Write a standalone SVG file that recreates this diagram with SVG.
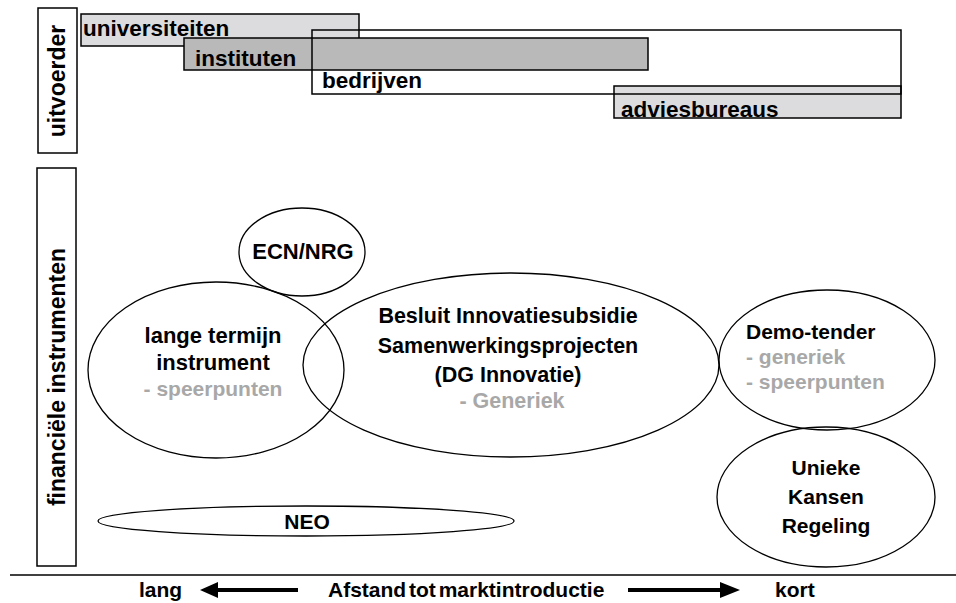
<svg xmlns="http://www.w3.org/2000/svg" width="956" height="603" viewBox="0 0 956 603">
<style>
text{font-family:"Liberation Sans",Arial,sans-serif;font-weight:bold;font-size:21px;fill:#000}
.t{font-size:22.5px}
.v{font-size:23px}
.m{font-size:22px}
.b{font-size:21.5px}
.g{fill:#a8a8a8}
.c{text-anchor:middle}
.box{stroke:#000;stroke-width:1.5}
.ell{fill:none;stroke:#000;stroke-width:1.3}
</style>
<rect width="956" height="603" fill="#fff"/>
<g id="uitvoerder">
<rect class="box" x="38" y="8" width="39" height="145" fill="#fff"/>
<text class="c v" transform="translate(65,81) rotate(-90)">uitvoerder</text>
</g>
<g id="universiteiten">
<rect class="box" x="81" y="14" width="278" height="32" fill="#dcdcde"/>
<text class="t" x="83" y="36">universiteiten</text>
</g>
<g id="instituten">
<rect class="box" x="184" y="38" width="464" height="32" fill="#b9b9ba"/>
<text class="t" x="195" y="66">instituten</text>
</g>
<g id="adviesbureaus">
<rect x="614" y="86" width="287" height="32" fill="#dcdcde"/>
<text class="t" x="621" y="117">adviesbureaus</text>
<rect class="box" x="614" y="86" width="287" height="32" fill="none"/>
</g>
<g id="bedrijven">
<rect class="box" x="312" y="30" width="589" height="64" fill="none"/>
<text class="t" x="322" y="88">bedrijven</text>
</g>
<g id="financiele">
<rect class="box" x="37" y="168" width="39" height="398" fill="#fff"/>
<text class="c v" transform="translate(65,377) rotate(-90)">financiële instrumenten</text>
</g>
<g id="ecn">
<ellipse class="ell" cx="302" cy="252" rx="63" ry="44"/>
<text class="c m" x="303" y="259">ECN/NRG</text>
</g>
<g id="lange">
<ellipse class="ell" cx="216" cy="370" rx="128" ry="88"/>
<text class="c m" x="213" y="343">lange termijn</text>
<text class="c m" x="213" y="370">instrument</text>
<text class="c g" x="213" y="396">- speerpunten</text>
</g>
<g id="besluit">
<ellipse class="ell" cx="511" cy="365" rx="208" ry="92"/>
<text class="c b" x="508" y="323">Besluit Innovatiesubsidie</text>
<text class="c b" x="508" y="353">Samenwerkingsprojecten</text>
<text class="c b" x="508" y="382">(DG Innovatie)</text>
<text class="c g b" x="512" y="408">- Generiek</text>
</g>
<g id="demo">
<ellipse class="ell" cx="827" cy="360" rx="108" ry="70"/>
<text x="746" y="339">Demo-tender</text>
<text class="g" x="746" y="364">- generiek</text>
<text class="g" x="746" y="389">- speerpunten</text>
</g>
<g id="unieke">
<ellipse class="ell" cx="826" cy="497" rx="109" ry="70"/>
<text class="c" x="826" y="475">Unieke</text>
<text class="c" x="826" y="504">Kansen</text>
<text class="c" x="826" y="533">Regeling</text>
</g>
<g id="neo">
<ellipse class="ell" cx="306" cy="521" rx="208" ry="15"/>
<text class="c" x="307" y="529">NEO</text>
</g>
<g id="axis">
<line x1="10" y1="575" x2="956" y2="575" stroke="#000" stroke-width="1.5"/>
<text x="139" y="597">lang</text>
<text x="328" y="597" word-spacing="-3">Afstand tot marktintroductie</text>
<text x="775" y="597">kort</text>
</g>
<g id="connectors">
<line x1="298" y1="590" x2="214" y2="590" stroke="#000" stroke-width="4"/>
<polygon points="200,590 218,582 218,598" fill="#000"/>
<line x1="628" y1="590" x2="722" y2="590" stroke="#000" stroke-width="4"/>
<polygon points="740,590 720,582 720,598" fill="#000"/>
</g>
</svg>
